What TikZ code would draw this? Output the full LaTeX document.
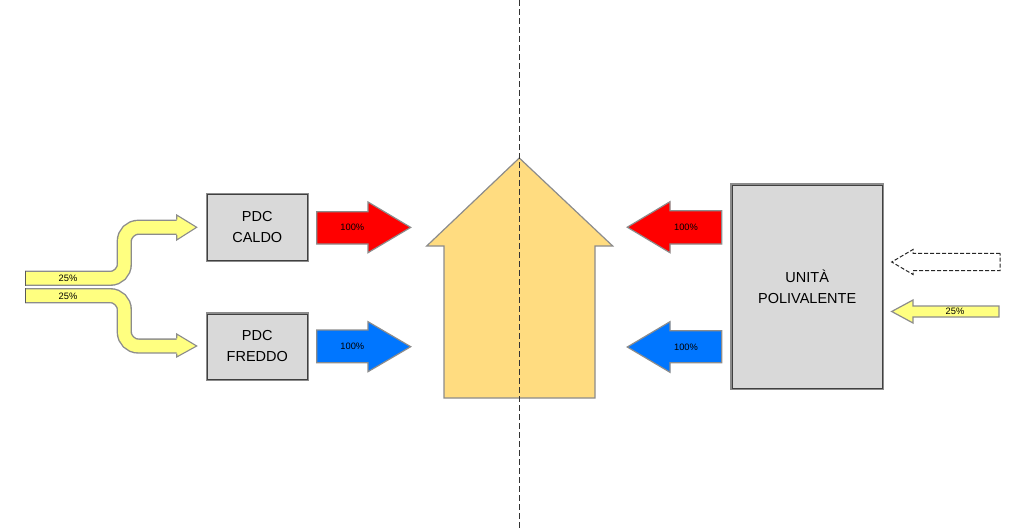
\documentclass[tikz,border=0pt]{standalone}
\usepackage{fontspec}
\setmainfont{Liberation Sans}
\definecolor{boxgray}{RGB}{217,217,217}
\definecolor{houseyel}{RGB}{255,220,128}
\definecolor{lightyel}{RGB}{255,255,128}
\definecolor{hotred}{RGB}{255,0,0}
\definecolor{coolblue}{RGB}{0,118,255}
\definecolor{rim}{RGB}{140,140,140}
\tikzset{
  unitbox/.style={draw=rim, line width=1.3pt, fill=boxgray, inner sep=0pt,
    align=center, font=\fontsize{14.5}{21}\selectfont},
  boxin/.style={draw=black!75, line width=0.8pt},
  flowarrow/.style={draw=rim, line width=1.2pt, line join=miter},
  pct/.style={font=\fontsize{9.3}{10}\selectfont, inner sep=0pt},
  bandrim/.style={draw=rim, line width=15.3pt, rounded corners=14pt, line cap=butt},
  bandfill/.style={draw=lightyel, line width=12.5pt, rounded corners=14pt, line cap=butt},
  axis/.style={draw=black!80, line width=0.8pt, dash pattern=on 6pt off 3pt}
}
\begin{document}
\begin{tikzpicture}[x=1pt,y=-1pt]
\useasboundingbox[fill=white] (0,0) rectangle (1013,530);

% house
\draw[flowarrow, fill=houseyel] (519.3,158) -- (612.7,246) -- (595,246) -- (595,398)
  -- (444,398) -- (444,246) -- (426.7,246) -- cycle;

% heat pump boxes
\node[unitbox, minimum width=101.3pt, minimum height=67.7pt] (caldo) at (257.3,227.2) {PDC\\CALDO};
\draw[boxin] ([shift={(1.6,1.6)}]caldo.north west) rectangle ([shift={(-1.6,-1.6)}]caldo.south east);
\node[unitbox, minimum width=101.3pt, minimum height=67pt] (freddo) at (257.3,346.5) {PDC\\FREDDO};
\draw[boxin] ([shift={(1.6,1.6)}]freddo.north west) rectangle ([shift={(-1.6,-1.6)}]freddo.south east);
\node[unitbox, minimum width=152.3pt, minimum height=205.3pt] (poli) at (807.2,286.7) {UNITÀ\\POLIVALENTE};
\draw[boxin] ([shift={(1.6,1.6)}]poli.north west) rectangle ([shift={(-1.6,-1.6)}]poli.south east);

% heating / cooling flows into the house
\draw[flowarrow, fill=hotred] (316.7,211.7) -- (368,211.7) -- (368,202) -- (410.7,227.4)
  -- (368,252.7) -- (368,244) -- (316.7,244) -- cycle;
\node[pct] (lcald) at (352.3,227.4) {100\%};
\draw[flowarrow, fill=coolblue] (316.7,330) -- (368,330) -- (368,321.7) -- (410.7,346.7)
  -- (368,371.7) -- (368,362.7) -- (316.7,362.7) -- cycle;
\node[pct] (lfred) at (352.3,346.7) {100\%};
\draw[flowarrow, fill=hotred] (721.7,210.7) -- (670,210.7) -- (670,201.7) -- (627.3,227.2)
  -- (670,252.7) -- (670,244) -- (721.7,244) -- cycle;
\node[pct] (rcald) at (686,227.2) {100\%};
\draw[flowarrow, fill=coolblue] (721.7,330.7) -- (670,330.7) -- (670,321.7) -- (627.3,347)
  -- (670,372.3) -- (670,362.7) -- (721.7,362.7) -- cycle;
\node[pct] (rfred) at (686,347) {100\%};

% inputs of the multi-purpose unit
\draw[draw=black!85, line width=1pt, dash pattern=on 4pt off 2pt]
  (1000,253.3) -- (913,253.3) -- (913,249.5) -- (891.7,262) -- (913,274.5) -- (913,270.7)
  -- (1000,270.7) -- cycle;
\draw[flowarrow, fill=lightyel] (999,306) -- (913,306) -- (913,300) -- (891.7,311.5)
  -- (913,323) -- (913,317) -- (999,317) -- cycle;
\node[pct] (rin) at (955,311.5) {25\%};

% split input to the two heat pumps
\draw[bandrim] (25,278.3) -- (124.3,278.3) -- (124.3,227.3) -- (177,227.3);
\draw[bandfill] (25,278.3) -- (124.3,278.3) -- (124.3,227.3) -- (177,227.3);
\draw[bandrim] (25,295.7) -- (124.3,295.7) -- (124.3,346) -- (177,346);
\draw[bandfill] (25,295.7) -- (124.3,295.7) -- (124.3,346) -- (177,346);
\draw[draw=black!65, line width=1pt] (25,270.7) -- (25,286) (25,288) -- (25,303.4);
\fill[lightyel] (176.7,215) -- (196.7,227.3) -- (176.7,240) -- cycle;
\draw[flowarrow, line width=1.1pt] (176.7,219.6) -- (176.7,215) -- (196.7,227.3) -- (176.7,240) -- (176.7,235);
\fill[lightyel] (176.7,334) -- (196.7,346) -- (176.7,357) -- cycle;
\draw[flowarrow, line width=1.1pt] (176.7,338.3) -- (176.7,334) -- (196.7,346) -- (176.7,357) -- (176.7,353.7);
\node[pct] (lin1) at (68,278.6) {25\%};
\node[pct] (lin2) at (68,296) {25\%};

% symmetry axis
\draw[axis] (519,0) -- (519,530);
\end{tikzpicture}
\end{document}
